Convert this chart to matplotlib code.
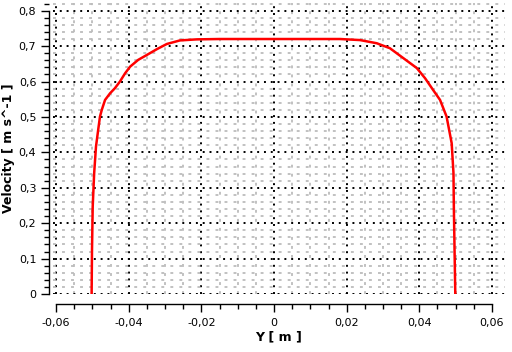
import matplotlib
matplotlib.use("Agg")
import matplotlib.pyplot as plt
from matplotlib.ticker import MultipleLocator, FuncFormatter

# Data
y_pos = [-0.0502, -0.0501, -0.0499, -0.0495, -0.0490, -0.0484, -0.0479, -0.0474,
         -0.0465, -0.0451, -0.0438, -0.0424, -0.0410, -0.0396, -0.0374, -0.0350,
         -0.0323, -0.0295, -0.0259, -0.0213, -0.0150, -0.0100, 0.0000, 0.0100,
         0.0150, 0.0182, 0.0237, 0.0283, 0.0319, 0.0356, 0.0393, 0.0416, 0.0438,
         0.0457, 0.0475, 0.0489, 0.0494, 0.0495, 0.0497, 0.0499]
velocity = [0.000, 0.120, 0.247, 0.341, 0.416, 0.463, 0.501, 0.520,
            0.548, 0.567, 0.581, 0.600, 0.623, 0.642, 0.661, 0.675,
            0.691, 0.706, 0.716, 0.719, 0.720, 0.720, 0.720, 0.720,
            0.720, 0.720, 0.717, 0.708, 0.694, 0.666, 0.638, 0.609, 0.576,
            0.548, 0.501, 0.426, 0.341, 0.247, 0.120, 0.000]

fig = plt.figure(figsize=(5.12, 3.52), dpi=100)
ax = fig.add_axes([53/512, (352-294)/352, (505-53)/512, (294-3)/352])

ax.plot(y_pos, velocity, color="#ff0000", lw=1.8, zorder=3)

ax.set_xlim(-0.06083, 0.06358)
ax.set_ylim(0.0, 0.8217)

ax.xaxis.set_major_locator(MultipleLocator(0.02))
ax.xaxis.set_minor_locator(MultipleLocator(0.005))
ax.yaxis.set_major_locator(MultipleLocator(0.1))
ax.yaxis.set_minor_locator(MultipleLocator(0.02))

def fmt(v, pos):
    if abs(v) < 1e-9:
        return "0"
    s = ("%.2f" % v) if abs(round(v, 1) - v) > 1e-9 else ("%.1f" % v)
    return s.replace(".", ",")

ax.xaxis.set_major_formatter(FuncFormatter(fmt))
ax.yaxis.set_major_formatter(FuncFormatter(fmt))

ax.grid(which="minor", color="#bcbcbc", lw=1.3, linestyle=(0, (1.6, 3.4)), zorder=0)
ax.grid(which="major", color="black", lw=1.4, linestyle=(0, (1, 2.5)), zorder=1)
ax.set_axisbelow(True)

for s in ("top", "right"):
    ax.spines[s].set_visible(False)
ax.spines["left"].set_position(("outward", 3))
ax.spines["bottom"].set_position(("outward", 7))
ax.spines["left"].set_bounds(0.0, 0.8)
ax.spines["bottom"].set_bounds(-0.06, 0.06)
ax.spines["left"].set_linewidth(1.0)
ax.spines["bottom"].set_linewidth(1.0)

ax.tick_params(which="major", length=6, width=1.0, labelsize=8, pad=3)
ax.tick_params(which="minor", length=3.6, width=1.0)
ax.tick_params(axis="x", which="major", pad=4)

ax.set_xlabel("Y [ m ]", fontsize=9, fontweight="bold", labelpad=2)
ax.set_ylabel("Velocity [ m s^-1 ]", fontsize=9, fontweight="bold", labelpad=3)

fig.savefig("out.png", dpi=100)
